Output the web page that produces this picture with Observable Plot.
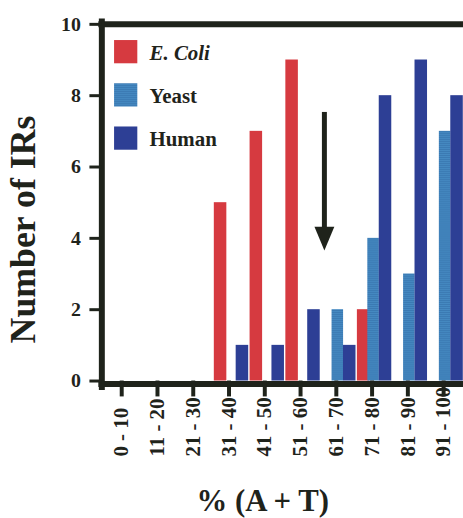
<!DOCTYPE html>
<html><head><meta charset="utf-8">
<script src="https://cdn.jsdelivr.net/npm/d3@7"></script>
<script src="https://cdn.jsdelivr.net/npm/@observablehq/plot@0.6"></script>
<style>
html,body{margin:0;padding:0;background:#fff;overflow:hidden;width:463px;height:518px}
</style></head><body><div id="chart"></div>
<script>
const categories = ["0 - 10","11 - 20","21 - 30","31 - 40","41 - 50","51 - 60","61 - 70","71 - 80","81 - 90","91 - 100"];
const series = ["E. Coli","Yeast","Human"];
const ecoli = [0,0,0,5,7,9,0,2,0,0];
const yeast = [0,0,0,0,0,0,2,4,3,7];
const human = [0,0,0,1,1,2,1,8,9,8];
const yTicks = [0,2,4,6,8,10];
const yLabel = "Number of IRs";
const xLabel = "% (A + T)";
const arrowCategory = "61 - 70";
const arrowFrom = 7.53;
const arrowTo = 3.66;

const values = {"E. Coli": ecoli, "Yeast": yeast, "Human": human};
const table = series.flatMap(s => categories.map((c, i) => ({series: s, category: c, count: values[s][i]})))
  .filter(d => d.count > 0);

const ink = "#1f231b";
const serif = "'Liberation Serif', 'Times New Roman', serif";
const fills = {"E. Coli": "#d63a40", "Yeast": "url(#yeastTex)", "Human": "#2d3f95"};
const barOffset = {"E. Coli": -8.5, "Yeast": 1.5, "Human": 13.5};
const barWidth = {"E. Coli": 13, "Yeast": 12, "Human": 13};
const W = 466, ML = 102, MR = 0;
const band = (W - ML - MR) / categories.length;

const headSymbol = {draw(ctx) { ctx.moveTo(0, 0); ctx.lineTo(-10, -24); ctx.lineTo(10, -24); ctx.closePath(); }};

const marks = [];
for (const s of series) {
  const inset = (band - barWidth[s]) / 2;
  marks.push(Plot.barY(table.filter(d => d.series === s), {
    x: "category", y: "count", fill: fills[s], insetLeft: inset, insetRight: inset, dx: barOffset[s]
  }));
}
// frame lines
marks.push(Plot.ruleY([10], {strokeWidth: 6, stroke: ink, insetLeft: -3}));
marks.push(Plot.ruleY([0], {strokeWidth: 6, stroke: ink, insetLeft: -3, dy: 3}));
marks.push(Plot.frame({anchor: "left", strokeWidth: 6, stroke: ink, insetTop: -3, insetBottom: -6}));
// axes
marks.push(Plot.axisY(yTicks, {anchor: "left", tickSize: 12, tickPadding: 9, strokeWidth: 3, fontSize: 20, fontWeight: "bold", label: null}));
marks.push(Plot.axisX({anchor: "bottom", tickSize: 16, strokeWidth: 4, tickFormat: () => "", label: null}));
marks.push(Plot.text(categories, {x: d => d, text: d => d, frameAnchor: "bottom", dy: 76, rotate: -90, textAnchor: "start", lineAnchor: "middle", fontSize: 21, fontWeight: "bold"}));
marks.push(Plot.text([yLabel], {text: d => d, frameAnchor: "left", dx: -67, dy: 27, rotate: -90, textAnchor: "middle", lineAnchor: "bottom", fontSize: 36, fontWeight: "bold"}));
marks.push(Plot.text([xLabel], {text: d => d, frameAnchor: "bottom", dx: -20, dy: 131, textAnchor: "middle", lineAnchor: "bottom", fontSize: 31, fontWeight: "bold"}));
// legend
series.forEach((s, i) => {
  marks.push(Plot.dot([s], {frameAnchor: "top-left", dx: 24, dy: 27.5 + i * 43.5, symbol: "square", r: 13.2, fill: fills[s], stroke: "none"}));
  marks.push(Plot.text([s], {text: d => d, frameAnchor: "top-left", dx: 48, dy: 29 + i * 43.5, textAnchor: "start", lineAnchor: "middle", fontSize: 21,
    fontWeight: "bold", fontStyle: i === 0 ? "italic" : "normal"}));
});
// arrow
marks.push(Plot.ruleX([arrowCategory], {x: d => d, y1: () => arrowFrom, y2: () => arrowTo, dx: -12, strokeWidth: 5, stroke: ink, insetBottom: 20}));
marks.push(Plot.dot([arrowCategory], {x: d => d, y: () => arrowTo, dx: -12, symbol: headSymbol, r: 5, fill: ink, stroke: "none"}));

const svg = Plot.plot({
  width: W, height: 518,
  marginLeft: ML, marginRight: MR, marginTop: 24, marginBottom: 135,
  x: {type: "band", domain: categories, padding: 0},
  y: {domain: [0, 10]},
  style: {fontFamily: serif, color: ink, background: "#fff", overflow: "visible"},
  marks
});
d3.select(svg).insert("defs", ":first-child").html(
  `<pattern id="yeastTex" width="2" height="2" patternUnits="userSpaceOnUse">
     <rect width="2" height="2" fill="#4589c1"/>
     <rect y="0" width="2" height="1" fill="#2f69a3" opacity="0.45"/>
   </pattern>`);
document.getElementById("chart").appendChild(svg);
</script></body></html>
